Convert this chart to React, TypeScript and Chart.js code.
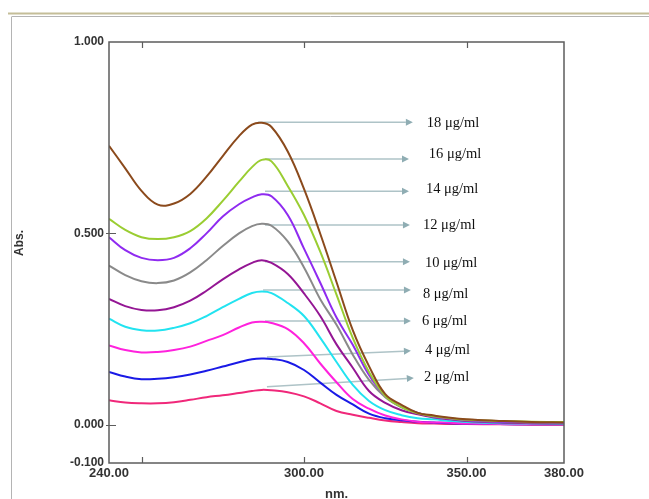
import React, { useEffect, useRef } from 'react';
import { Chart, registerables } from 'chart.js';

Chart.register(...registerables);

// Wavelength grid (nm)
const wavelengths = [240, 245, 250, 255, 260, 265, 270, 275, 280, 284, 287, 290, 295, 300, 305, 310, 315, 320, 325, 330, 335, 340, 345, 350, 360, 370, 380];

// Absorbance values per concentration
const conc18 = [0.729, 0.670, 0.611, 0.575, 0.578, 0.603, 0.648, 0.702, 0.754, 0.784, 0.789, 0.778, 0.714, 0.616, 0.499, 0.373, 0.247, 0.153, 0.080, 0.052, 0.031, 0.024, 0.018, 0.014, 0.010, 0.007, 0.006];
const conc16 = [0.538, 0.509, 0.490, 0.485, 0.490, 0.506, 0.539, 0.585, 0.635, 0.673, 0.692, 0.688, 0.624, 0.548, 0.452, 0.340, 0.227, 0.138, 0.075, 0.046, 0.030, 0.022, 0.017, 0.013, 0.010, 0.008, 0.007];
const conc14 = [0.490, 0.456, 0.436, 0.430, 0.436, 0.461, 0.500, 0.544, 0.576, 0.594, 0.602, 0.597, 0.548, 0.460, 0.371, 0.280, 0.209, 0.130, 0.075, 0.046, 0.031, 0.021, 0.016, 0.012, 0.008, 0.007, 0.006];
const conc12 = [0.416, 0.391, 0.375, 0.370, 0.377, 0.398, 0.430, 0.467, 0.500, 0.519, 0.525, 0.520, 0.479, 0.411, 0.328, 0.261, 0.183, 0.117, 0.072, 0.046, 0.031, 0.021, 0.016, 0.012, 0.008, 0.006, 0.004];
const conc10 = [0.329, 0.310, 0.300, 0.299, 0.307, 0.324, 0.350, 0.380, 0.406, 0.423, 0.430, 0.423, 0.394, 0.343, 0.284, 0.210, 0.149, 0.088, 0.057, 0.038, 0.027, 0.019, 0.014, 0.010, 0.006, 0.004, 0.003];
const conc8 = [0.277, 0.256, 0.247, 0.246, 0.253, 0.265, 0.284, 0.307, 0.329, 0.344, 0.348, 0.344, 0.318, 0.284, 0.227, 0.164, 0.104, 0.062, 0.038, 0.025, 0.017, 0.014, 0.010, 0.007, 0.004, 0.003, 0.002];
const conc6 = [0.207, 0.195, 0.189, 0.190, 0.195, 0.204, 0.219, 0.234, 0.254, 0.267, 0.269, 0.266, 0.250, 0.213, 0.160, 0.111, 0.067, 0.042, 0.024, 0.014, 0.008, 0.006, 0.005, 0.003, 0.002, 0.001, 0.001];
const conc4 = [0.138, 0.126, 0.119, 0.120, 0.124, 0.131, 0.141, 0.152, 0.163, 0.171, 0.173, 0.172, 0.164, 0.143, 0.110, 0.078, 0.053, 0.029, 0.017, 0.012, 0.008, 0.006, 0.004, 0.003, 0.002, 0.001, 0.001];
const conc2 = [0.064, 0.058, 0.056, 0.056, 0.059, 0.065, 0.072, 0.077, 0.083, 0.088, 0.091, 0.090, 0.085, 0.074, 0.056, 0.036, 0.026, 0.018, 0.011, 0.007, 0.004, 0.003, 0.002, 0.002, 0.001, 0.000, 0.000];

const seriesLabels = ['18 μg/ml', '16 μg/ml', '14 μg/ml', '12 μg/ml', '10 μg/ml', '8 μg/ml', '6 μg/ml', '4 μg/ml', '2 μg/ml'];
const seriesColors = ['#8B4A1C', '#9ACD32', '#8F2BF0', '#8A8A8A', '#941694', '#22E3F0', '#FF22DD', '#1A1AE6', '#F0287A'];

// Axis ticks
const xTickLabels = [240, 300, 350, 380];
const xTickMarks = [250, 300, 350];
const yTickLabels = [-0.1, 0, 0.5, 1.0];
const yTickMarks = [0, 0.5];

// Annotation arrows (data units: nm, Abs.)
const arrowStartNm = [285.8, 288, 288, 288, 288, 287.4, 288, 288.6, 288.6];
const arrowStartAbs = [0.790, 0.694, 0.610, 0.522, 0.426, 0.352, 0.271, 0.177, 0.099];
const arrowEndNm = [333.5, 332.3, 332.3, 332.6, 332.6, 332.9, 332.9, 332.9, 333.8];
const arrowEndAbs = [0.790, 0.694, 0.610, 0.522, 0.426, 0.352, 0.271, 0.193, 0.122];
const labelNm = [337.8, 338.4, 337.5, 336.6, 337.2, 336.6, 336.3, 337.2, 336.9];
const labelAbs = [0.789, 0.707, 0.616, 0.522, 0.423, 0.342, 0.271, 0.195, 0.125];

const SANS = '"Liberation Sans", Arial, sans-serif';
const SERIF = '"Liberation Serif", "Times New Roman", serif';

export default function App() {
  const ref = useRef<HTMLCanvasElement>(null);

  useEffect(() => {
    const series = [conc18, conc16, conc14, conc12, conc10, conc8, conc6, conc4, conc2];

    const deco = {
      id: 'deco',
      beforeDatasetsDraw(chart: any) {
        const { ctx, scales } = chart;
        const xs = scales.x;
        const ys = scales.y;
        ctx.save();
        for (let i = 0; i < seriesLabels.length; i++) {
          const x1 = xs.getPixelForValue(arrowStartNm[i]);
          const y1 = ys.getPixelForValue(arrowStartAbs[i]);
          const x2 = xs.getPixelForValue(arrowEndNm[i]);
          const y2 = ys.getPixelForValue(arrowEndAbs[i]);
          const ang = Math.atan2(y2 - y1, x2 - x1);
          const len = 7;
          ctx.strokeStyle = '#aec3c7';
          ctx.lineWidth = 1.5;
          ctx.beginPath();
          ctx.moveTo(x1, y1);
          ctx.lineTo(x2 - len * Math.cos(ang), y2 - len * Math.sin(ang));
          ctx.stroke();
          ctx.fillStyle = '#8fadb3';
          ctx.beginPath();
          ctx.moveTo(x2, y2);
          ctx.lineTo(x2 - len * Math.cos(ang) + 3.5 * Math.sin(ang), y2 - len * Math.sin(ang) - 3.5 * Math.cos(ang));
          ctx.lineTo(x2 - len * Math.cos(ang) - 3.5 * Math.sin(ang), y2 - len * Math.sin(ang) + 3.5 * Math.cos(ang));
          ctx.closePath();
          ctx.fill();
        }
        ctx.restore();
      },
      afterDraw(chart: any) {
        const { ctx, chartArea, scales } = chart;
        const xs = scales.x;
        const ys = scales.y;
        const { left, right, top, bottom } = chartArea;
        ctx.save();
        // outer page frame
        ctx.strokeStyle = '#c4bd98';
        ctx.lineWidth = 2;
        ctx.beginPath();
        ctx.moveTo(8, 13.5);
        ctx.lineTo(649, 13.5);
        ctx.stroke();
        ctx.strokeStyle = '#b4b4b4';
        ctx.lineWidth = 1;
        ctx.beginPath();
        ctx.moveTo(12, 16.5);
        ctx.lineTo(649, 16.5);
        ctx.moveTo(11.5, 16.5);
        ctx.lineTo(11.5, 499);
        ctx.stroke();

        // plot frame
        ctx.strokeStyle = '#5c5c5c';
        ctx.lineWidth = 1.5;
        ctx.strokeRect(left, top, right - left, bottom - top);

        // tick marks
        ctx.lineWidth = 1.2;
        ctx.beginPath();
        for (const v of xTickMarks) {
          const px = Math.round(xs.getPixelForValue(v)) + 0.5;
          ctx.moveTo(px, bottom);
          ctx.lineTo(px, bottom - 6);
          ctx.moveTo(px, top);
          ctx.lineTo(px, top + 6);
        }
        for (const v of yTickMarks) {
          const py = Math.round(ys.getPixelForValue(v)) + 0.5;
          ctx.moveTo(left - 3, py);
          ctx.lineTo(left + 7, py);
        }
        ctx.stroke();

        // axis titles
        ctx.fillStyle = '#333';
        ctx.font = `bold 12px ${SANS}`;
        ctx.textAlign = 'center';
        ctx.textBaseline = 'middle';
        ctx.save();
        ctx.translate(20, 243);
        ctx.rotate(-Math.PI / 2);
        ctx.fillText('Abs.', 0, 0);
        ctx.restore();
        ctx.font = `bold 13px ${SANS}`;
        ctx.textBaseline = 'top';
        ctx.fillText('nm.', (left + right) / 2, 488);

        // concentration labels
        ctx.fillStyle = '#111';
        ctx.font = `14.5px ${SERIF}`;
        ctx.textAlign = 'left';
        ctx.textBaseline = 'middle';
        for (let i = 0; i < seriesLabels.length; i++) {
          ctx.fillText(seriesLabels[i], xs.getPixelForValue(labelNm[i]), ys.getPixelForValue(labelAbs[i]));
        }
        ctx.restore();
      },
    };

    const chart = new Chart(ref.current as HTMLCanvasElement, {
      type: 'line',
      data: {
        datasets: series.map((vals, i) => ({
          label: seriesLabels[i],
          data: wavelengths.map((w, j) => ({ x: w, y: vals[j] })),
          borderColor: seriesColors[i],
          backgroundColor: seriesColors[i],
          borderWidth: 2,
          pointRadius: 0,
          fill: false,
          tension: 0.4,
        })),
      },
      options: {
        responsive: false,
        devicePixelRatio: 1,
        animation: false,
        layout: { padding: { top: 42, right: 85, left: 0, bottom: 0 } },
        plugins: { legend: { display: false }, tooltip: { enabled: false } },
        scales: {
          x: {
            type: 'linear',
            min: 240,
            max: 380,
            grid: { display: false, drawTicks: false },
            border: { display: false },
            afterBuildTicks: (axis: any) => {
              axis.ticks = xTickLabels.map((v) => ({ value: v }));
            },
            afterFit: (scale: any) => {
              scale.height = 36;
            },
            ticks: {
              autoSkip: false,
              maxRotation: 0,
              padding: 3,
              color: '#333',
              font: { family: SANS, size: 13, weight: 'bold' },
              callback: (v: any) => Number(v).toFixed(2),
            },
          },
          y: {
            type: 'linear',
            min: -0.1,
            max: 1.0,
            grid: { display: false, drawTicks: false },
            border: { display: false },
            afterBuildTicks: (axis: any) => {
              axis.ticks = yTickLabels.map((v) => ({ value: v }));
            },
            afterFit: (scale: any) => {
              scale.width = 109;
            },
            ticks: {
              padding: 5,
              color: '#333',
              font: { family: SANS, size: 12, weight: 'bold' },
              callback: (v: any) => Number(v).toFixed(3),
            },
          },
        },
      },
      plugins: [deco],
    });
    return () => chart.destroy();
  }, []);

  return (
    <div style={{ position: 'fixed', left: 0, top: 0, width: 649, height: 499, background: '#fff' }}>
      <canvas ref={ref} width={649} height={499} style={{ display: 'block' }} />
    </div>
  );
}
